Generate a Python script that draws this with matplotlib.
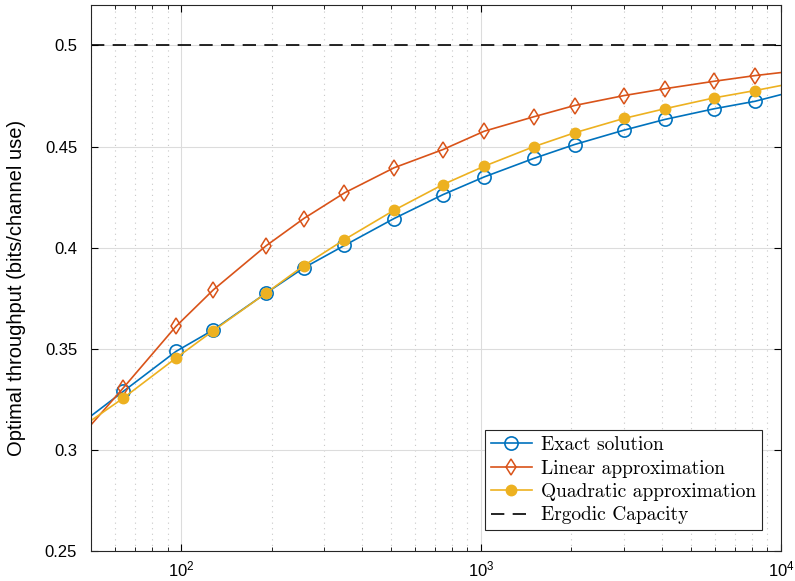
import matplotlib
matplotlib.use('Agg')
from matplotlib import pyplot as plt
from matplotlib.ticker import FixedLocator, FuncFormatter

# values
# first and last entries are where the curves meet the axes edges
x = [50, 64, 96, 128, 192, 256, 350, 512, 745, 1024, 1495, 2048, 2990, 4096, 5990, 8192, 10000]

exact = [0.3168, 0.3289, 0.3487, 0.3594, 0.3776, 0.3900, 0.4011, 0.4144, 0.4262, 0.4350,
         0.4441, 0.4510, 0.4581, 0.4634, 0.4687, 0.4724, 0.4757]
linear = [0.3124, 0.3306, 0.3611, 0.3792, 0.4010, 0.4144, 0.4271, 0.4395, 0.4485, 0.4576,
          0.4647, 0.4703, 0.4752, 0.4786, 0.4823, 0.4851, 0.4866]
quadratic = [0.3145, 0.3256, 0.3454, 0.3590, 0.3776, 0.3911, 0.4040, 0.4185, 0.4312, 0.4403,
             0.4499, 0.4568, 0.4639, 0.4687, 0.4741, 0.4777, 0.4802]
capacity = 0.5

labels = ['Exact solution', 'Linear approximation', 'Quadratic approximation', 'Ergodic Capacity']
yticks = [0.25, 0.3, 0.35, 0.4, 0.45, 0.5]

blue = '#0072BD'
red = '#D95319'
yellow = '#EDB120'

plt.rcParams['font.family'] = ['Liberation Sans', 'DejaVu Sans']

fig = plt.figure(figsize=(7.95, 5.81), dpi=100)
ax = fig.add_axes([0.1145, 0.0516, 0.868, 0.9398])

mark = slice(1, -1)  # markers only on the sampled points, not the edge values

circ = dict(marker='o', ms=9.5, mfc='none', mec=blue, mew=1.2)
diam = dict(marker='d', ms=8, mfc='none', mec=red, mew=1.1)
dot = dict(marker='o', ms=7.5, mfc=yellow, mec=yellow)

ax.plot(x, exact, color=blue, lw=1.2)
ax.plot(x[mark], exact[mark], ls='none', **circ)
ax.plot(x, linear, color=red, lw=1.2)
ax.plot(x[mark], linear[mark], ls='none', **diam)
ax.plot(x, quadratic, color=yellow, lw=1.2)
ax.plot(x[mark], quadratic[mark], ls='none', **dot)
ax.axhline(capacity, color='black', lw=1.2, dashes=(8, 5))

# legend proxies
h1, = ax.plot([], [], color=blue, lw=1.2, **circ)
h2, = ax.plot([], [], color=red, lw=1.2, **diam)
h3, = ax.plot([], [], color=yellow, lw=1.2, **dot)
h4, = ax.plot([], [], color='black', lw=1.2, dashes=(8, 5))

ax.set_xscale('log')
ax.set_xlim(50, 10000)
ax.set_ylim(0.25, 0.52)
ax.yaxis.set_major_locator(FixedLocator(yticks))
ax.yaxis.set_major_formatter(FuncFormatter(lambda v, p: '%g' % v))

ax.grid(True, which='major', color='#dcdcdc', lw=0.8)
ax.grid(True, which='minor', axis='x', color='#c8c8c8', lw=0.8, ls=(0, (1, 4)))
ax.set_axisbelow(True)

ax.tick_params(axis='both', which='both', direction='in', top=True, right=True, labelsize=12)
ax.tick_params(axis='both', which='major', length=5)
ax.tick_params(axis='y', which='major', pad=10)
ax.tick_params(axis='x', which='major', pad=6)
ax.tick_params(axis='x', which='minor', length=3)
ax.tick_params(axis='y', which='minor', left=False, right=False)
for s in ax.spines.values():
    s.set_linewidth(0.8)
    s.set_color('#262626')

ax.set_ylabel('Optimal throughput (bits/channel use)', fontsize=14.5)
ax.yaxis.set_label_coords(-0.094, 0.482)

leg = ax.legend([h1, h2, h3, h4], labels, loc='lower right', bbox_to_anchor=(0.973, 0.038),
                prop={'family': 'cmr10', 'size': 14}, frameon=True, fancybox=False,
                framealpha=1, edgecolor='#262626', handlelength=2.1, labelspacing=0.28,
                borderpad=0.3, handletextpad=0.5, borderaxespad=0)
leg.get_frame().set_linewidth(0.8)

fig.savefig('out.png', dpi=100)
